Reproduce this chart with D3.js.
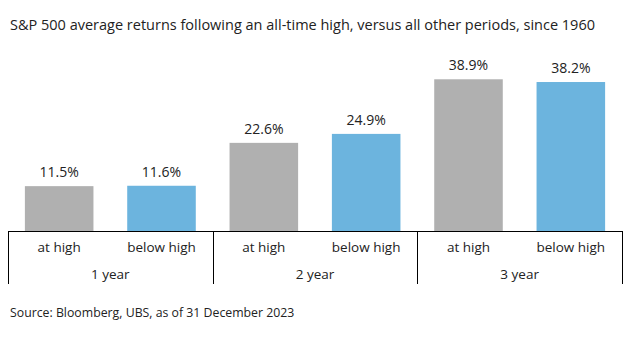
<!DOCTYPE html>
<html>
<head>
<meta charset="utf-8">
<script src="https://cdn.jsdelivr.net/npm/d3@7"></script>
<style>
  html, body { margin: 0; padding: 0; background: #fff; }
  svg { display: block; font-family: "Open Sans", "Noto Sans", sans-serif; }
</style>
</head>
<body>
<svg id="chart" width="634" height="350"></svg>
<script>
// Chart data
const horizons = ["1 year", "2 year", "3 year"];
const states = ["at high", "below high"];
const returnsAtHigh = [11.5, 22.6, 38.9];
const returnsBelowHigh = [11.6, 24.9, 38.2];

const colors = { "at high": "#b0b0b0", "below high": "#6cb4de" };

const rows = [];
horizons.forEach((h, i) => {
  rows.push({ horizon: h, state: states[0], value: returnsAtHigh[i] });
  rows.push({ horizon: h, state: states[1], value: returnsBelowHigh[i] });
});

const svg = d3.select("#chart");
const left = 8, right = 622, baseY = 231;

const x = d3.scaleBand()
  .domain(rows.map(d => d.horizon + "|" + d.state))
  .range([left, right])
  .paddingInner(0.33)
  .paddingOuter(0.165);

const xGroup = d3.scaleBand().domain(horizons).range([left, right]);

const y = d3.scaleLinear().domain([0, 40]).range([baseY, 75]);

// Title
svg.append("text")
  .attr("x", 10).attr("y", 30)
  .attr("font-size", 14.5)
  .attr("fill", "#222")
  .text("S&P 500 average returns following an all-time high, versus all other periods, since 1960");

// Bars
svg.selectAll("rect.bar").data(rows).join("rect")
  .attr("class", "bar")
  .attr("x", d => x(d.horizon + "|" + d.state))
  .attr("width", x.bandwidth())
  .attr("y", d => y(d.value))
  .attr("height", d => y(0) - y(d.value))
  .attr("fill", d => colors[d.state]);

// Value labels
svg.selectAll("text.val").data(rows).join("text")
  .attr("class", "val")
  .attr("x", d => x(d.horizon + "|" + d.state) + x.bandwidth() / 2)
  .attr("y", d => y(d.value) - 9)
  .attr("text-anchor", "middle")
  .attr("font-size", 14)
  .attr("fill", "#222")
  .text(d => d.value.toFixed(1) + "%");

// Category axis: baseline, group separators and labels
const axis = svg.append("g").attr("stroke", "#000").attr("stroke-width", 1);
axis.append("line")
  .attr("x1", left).attr("x2", right)
  .attr("y1", baseY + 0.5).attr("y2", baseY + 0.5);

const seps = horizons.map(h => xGroup(h)).concat([right]);
axis.selectAll("line.sep").data(seps).join("line")
  .attr("class", "sep")
  .attr("x1", d => Math.round(d) + 0.5).attr("x2", d => Math.round(d) + 0.5)
  .attr("y1", baseY).attr("y2", 284);

svg.selectAll("text.cat").data(rows).join("text")
  .attr("class", "cat")
  .attr("x", d => x(d.horizon + "|" + d.state) + x.bandwidth() / 2)
  .attr("y", 252)
  .attr("text-anchor", "middle")
  .attr("font-size", 13.5)
  .attr("fill", "#222")
  .text(d => d.state);

svg.selectAll("text.grp").data(horizons).join("text")
  .attr("class", "grp")
  .attr("x", d => xGroup(d) + xGroup.bandwidth() / 2)
  .attr("y", 278.5)
  .attr("text-anchor", "middle")
  .attr("font-size", 13.5)
  .attr("fill", "#222")
  .text(d => d);

// Source note
svg.append("text")
  .attr("x", 10).attr("y", 317)
  .attr("font-size", 12.3)
  .attr("fill", "#222")
  .text("Source: Bloomberg, UBS, as of 31 December 2023");
</script>
</body>
</html>
